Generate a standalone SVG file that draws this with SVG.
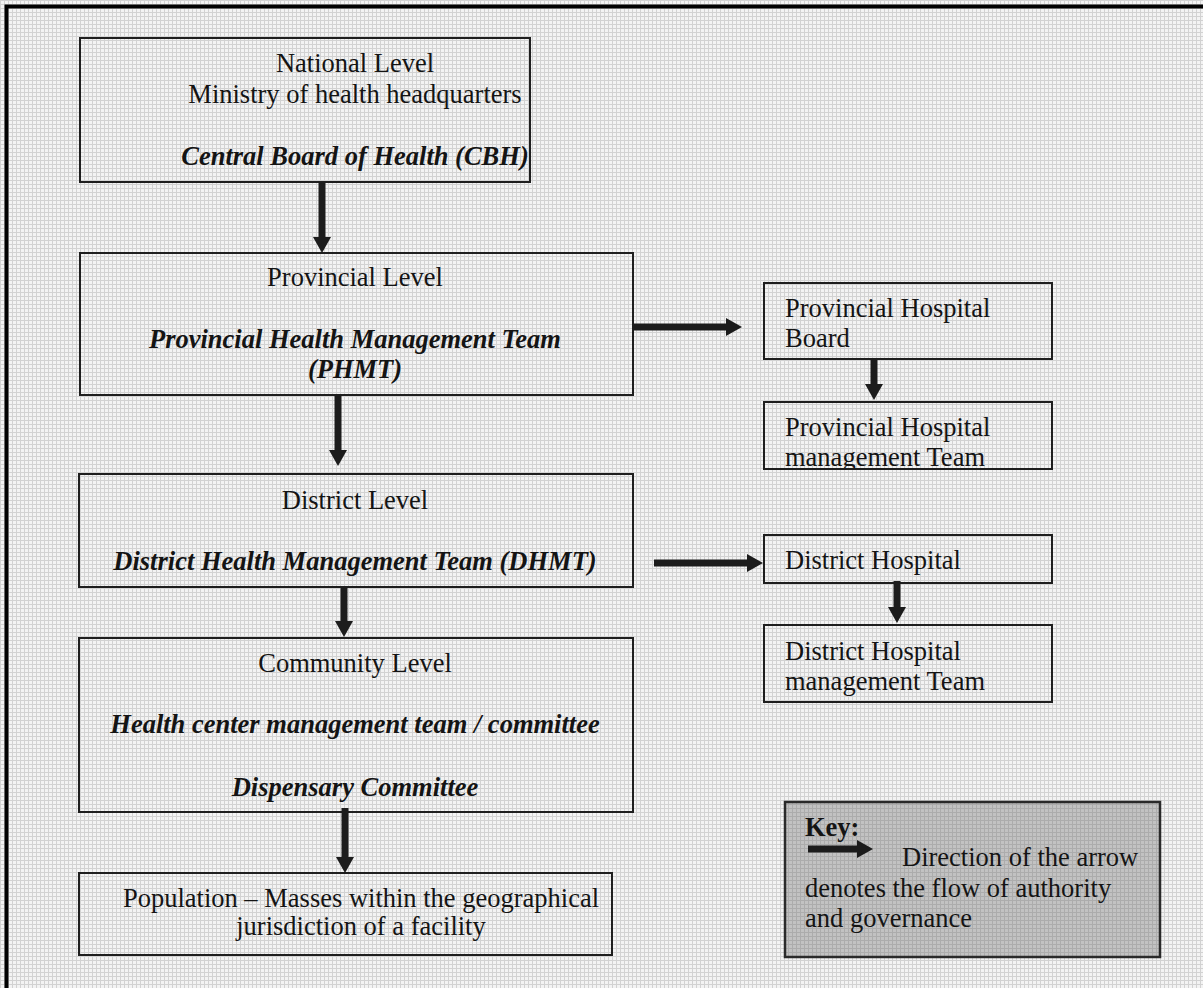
<svg xmlns="http://www.w3.org/2000/svg" width="1203" height="988" viewBox="0 0 1203 988">
  <defs>
    <!-- fine light grid used as the page tint -->
    <pattern id="bg" width="4" height="4" patternUnits="userSpaceOnUse">
      <rect width="4" height="4" fill="#f3f3f3"/>
      <rect x="0" y="0" width="4" height="1" fill="#d2d2d2"/>
      <rect x="0" y="0" width="1" height="4" fill="#d2d2d2"/>
    </pattern>
    <!-- darker grid for the key panel -->
    <pattern id="keybg" width="4" height="4" patternUnits="userSpaceOnUse">
      <rect width="4" height="4" fill="#c2c2c2"/>
      <rect x="0" y="0" width="4" height="1" fill="#acacac"/>
      <rect x="0" y="0" width="1" height="4" fill="#acacac"/>
    </pattern>
    <marker id="head" markerUnits="userSpaceOnUse" viewBox="0 0 16 18" markerWidth="16" markerHeight="18" refX="2" refY="9" orient="auto">
      <path d="M0,0 L16,9 L0,18 z" fill="#1c1c1c"/>
    </marker>
    <clipPath id="clipPHM"><rect x="764" y="402" width="288" height="66"/></clipPath>
    <clipPath id="clipDHM"><rect x="764" y="625" width="288" height="76"/></clipPath>
  </defs>
  <style>
    .box { fill: url(#bg); stroke: #1e1e1e; stroke-width: 2; }
    .t { font-family: "Liberation Serif", "Times New Roman", serif; font-size: 26.5px; fill: #141414; }
    .c { text-anchor: middle; }
    .bi { font-weight: bold; font-style: italic; }
    .b { font-weight: bold; }
    .arrow { stroke: #1c1c1c; stroke-width: 7; fill: none; marker-end: url(#head); }
  </style>

  <!-- page -->
  <rect x="0" y="0" width="1203" height="988" fill="url(#bg)"/>
  <path d="M6.5,988 V6.5 H1203" fill="none" stroke="#000" stroke-width="4"/>

  <g id="national">
    <rect class="box" x="80" y="38" width="450" height="144"/>
    <text class="t c" x="355" y="72">National Level</text>
    <text class="t c" x="355" y="103">Ministry of health headquarters</text>
    <text class="t c bi" x="355" y="165">Central Board of Health (CBH)</text>
  </g>

  <g id="provincial">
    <rect class="box" x="80" y="253" width="553" height="142"/>
    <text class="t c" x="355" y="286">Provincial Level</text>
    <text class="t c bi" x="355" y="348">Provincial Health Management Team</text>
    <text class="t c bi" x="355" y="378">(PHMT)</text>
  </g>

  <g id="prov-hospital-board">
    <rect class="box" x="764" y="283" width="288" height="76"/>
    <text class="t" x="785" y="317">Provincial Hospital</text>
    <text class="t" x="785" y="347">Board</text>
  </g>

  <g id="prov-hospital-mgmt">
    <rect class="box" x="764" y="402" width="288" height="67"/>
    <g clip-path="url(#clipPHM)">
      <text class="t" x="785" y="436">Provincial Hospital</text>
      <text class="t" x="785" y="466">management Team</text>
    </g>
  </g>

  <g id="district">
    <rect class="box" x="79" y="474" width="554" height="113"/>
    <text class="t c" x="355" y="509">District Level</text>
    <text class="t c bi" x="355" y="570">District Health Management Team (DHMT)</text>
  </g>

  <g id="district-hospital">
    <rect class="box" x="764" y="535" width="288" height="48"/>
    <text class="t" x="785" y="569">District Hospital</text>
  </g>

  <g id="district-hospital-mgmt">
    <rect class="box" x="764" y="625" width="288" height="77"/>
    <g clip-path="url(#clipDHM)">
      <text class="t" x="785" y="660">District Hospital</text>
      <text class="t" x="785" y="690">management Team</text>
    </g>
  </g>

  <g id="community">
    <rect class="box" x="79" y="638" width="554" height="174"/>
    <text class="t c" x="355" y="672">Community Level</text>
    <text class="t c bi" x="355" y="733">Health center management team / committee</text>
    <text class="t c bi" x="355" y="796">Dispensary Committee</text>
  </g>

  <g id="population">
    <rect class="box" x="79" y="873" width="533" height="82"/>
    <text class="t c" x="361" y="907">Population – Masses within the geographical</text>
    <text class="t c" x="361" y="935">jurisdiction of a facility</text>
  </g>

  <g id="key">
    <rect x="785" y="802" width="375" height="155" fill="url(#keybg)" stroke="#2a2a2a" stroke-width="2.5"/>
    <text class="t b" x="805" y="836">Key:</text>
    <path class="arrow" d="M808,849 H859" stroke-width="6"/>
    <text class="t" x="902" y="866">Direction of the arrow</text>
    <text class="t" x="805" y="897">denotes the flow of authority</text>
    <text class="t" x="805" y="927">and governance</text>
  </g>

  <g id="connectors">
    <path class="arrow" d="M322,182 V239"/>
    <path class="arrow" d="M338,395 V452"/>
    <path class="arrow" d="M344,587 V623"/>
    <path class="arrow" d="M345,808 V859"/>
    <path class="arrow" d="M633,327 H728"/>
    <path class="arrow" d="M654,563 H749"/>
    <path class="arrow" d="M874,359 V386"/>
    <path class="arrow" d="M897,581 V609"/>
  </g>
</svg>
